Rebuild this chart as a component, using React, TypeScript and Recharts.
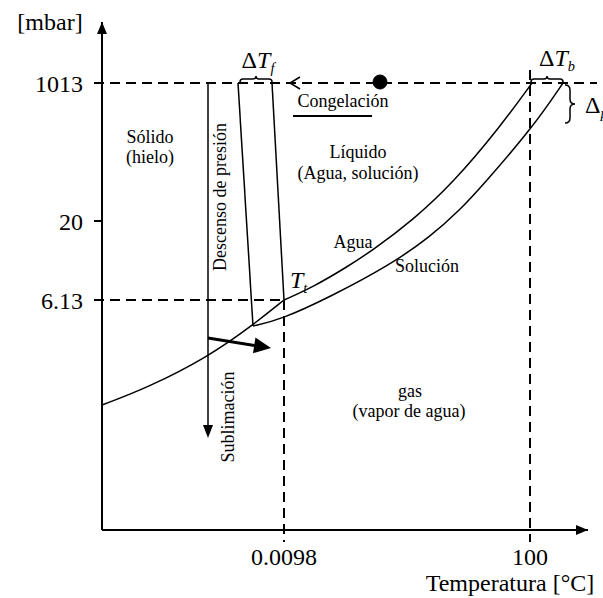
import React from 'react';
import { LineChart, Line, XAxis, YAxis, ReferenceLine, ReferenceDot } from 'recharts';

const FONT = '"Liberation Serif", "Times New Roman", serif';

// schematic phase diagram: positions along the axes and the values printed there
const tempTicks = [182, 428];
const tempLabels = ['0.0098', '100'];
const pressTicks = [230, 309, 447];
const pressLabels = ['6.13', '20', '1013'];

// ice / vapour (sublimation) curve, up to the triple point of water
const sublimationCurve = [
  { x: 0, y: 125 },
  { x: 45, y: 142 },
  { x: 106, y: 173 },
  { x: 151, y: 205 },
  { x: 182, y: 230 },
];

// vapour pressure of pure water
const waterCurve = [
  { x: 182, y: 230 },
  { x: 211, y: 243 },
  { x: 245, y: 263 },
  { x: 271, y: 280 },
  { x: 311, y: 310 },
  { x: 351, y: 347 },
  { x: 398, y: 403 },
  { x: 430, y: 447 },
];

// vapour pressure of the solution
const solutionCurve = [
  { x: 151, y: 204 },
  { x: 178, y: 210 },
  { x: 228, y: 233 },
  { x: 288, y: 265 },
  { x: 328, y: 293 },
  { x: 358, y: 320 },
  { x: 381, y: 345 },
  { x: 431, y: 403 },
  { x: 461, y: 447 },
];

// melting lines
const waterMelting = [
  { x: 170, y: 447 },
  { x: 182, y: 230 },
];
const solutionMelting = [
  { x: 136, y: 447 },
  { x: 151, y: 204 },
];

type ShapeProps = { cx?: number; cy?: number };

function Txt({ cx = 0, cy = 0, text, size = 18, anchor = 'middle', rotate = 0 }: ShapeProps & {
  text: string;
  size?: number;
  anchor?: 'start' | 'middle' | 'end';
  rotate?: number;
}) {
  return (
    <text
      x={cx}
      y={cy}
      fontSize={size}
      fontFamily={FONT}
      textAnchor={anchor}
      fill="#000"
      transform={rotate ? `rotate(${rotate} ${cx} ${cy})` : undefined}
    >
      {text}
    </text>
  );
}

function Sub({ cx = 0, cy = 0, main, sub, delta = false, size = 22, anchor = 'middle' }: ShapeProps & {
  main: string;
  sub: string;
  delta?: boolean;
  size?: number;
  anchor?: 'start' | 'middle' | 'end';
}) {
  return (
    <text x={cx} y={cy} fontSize={size} fontFamily={FONT} textAnchor={anchor} fill="#000">
      {delta && <tspan>Δ</tspan>}
      {main && <tspan fontStyle="italic">{main}</tspan>}
      <tspan fontStyle="italic" fontSize={size * 0.6} dy={size * 0.2}>
        {sub}
      </tspan>
    </text>
  );
}

function Arrowhead({ cx = 0, cy = 0, angle = 0, len = 12, half = 5 }: ShapeProps & {
  angle?: number;
  len?: number;
  half?: number;
}) {
  return (
    <polygon
      points={`${cx},${cy} ${cx - len},${cy - half} ${cx - len},${cy + half}`}
      fill="#000"
      transform={`rotate(${angle} ${cx} ${cy})`}
    />
  );
}

function Chevron({ cx = 0, cy = 0 }: ShapeProps) {
  return (
    <polyline
      points={`${cx + 10},${cy - 6} ${cx},${cy} ${cx + 10},${cy + 6}`}
      fill="none"
      stroke="#000"
      strokeWidth={1.5}
    />
  );
}

function Brace({ cx = 0, cy = 0, w = 30, h = 6, rot = 0 }: ShapeProps & { w?: number; h?: number; rot?: number }) {
  const x0 = cx - w / 2;
  const x1 = cx + w / 2;
  const q = h / 2;
  const d = `M${x0},${cy} Q${x0},${cy - q} ${x0 + q},${cy - q} L${cx - q},${cy - q} Q${cx},${cy - q} ${cx},${cy - h} Q${cx},${cy - q} ${cx + q},${cy - q} L${x1 - q},${cy - q} Q${x1},${cy - q} ${x1},${cy}`;
  return (
    <path
      d={d}
      fill="none"
      stroke="#000"
      strokeWidth={1.5}
      transform={rot ? `rotate(${rot} ${cx} ${cy})` : undefined}
    />
  );
}

const dash = { stroke: '#000', strokeWidth: 2, strokeDasharray: '10 6' };

export default function App() {
  return (
    <div style={{ position: 'absolute', left: 0, top: 0, width: 603, height: 598, background: '#fff', fontFamily: FONT }}>
      <LineChart width={603} height={598} margin={{ top: 22, right: 15, bottom: 0, left: 0 }}>
        <XAxis
          type="number"
          dataKey="x"
          domain={[0, 486]}
          ticks={tempTicks}
          interval={0}
          tickFormatter={(v: number) => tempLabels[tempTicks.indexOf(v)]}
          axisLine={{ stroke: '#000', strokeWidth: 2 }}
          tickLine={false}
          tickSize={0}
          tickMargin={18}
          height={68}
          tick={{ fontSize: 24, fill: '#000', fontFamily: FONT }}
        />
        <YAxis
          type="number"
          domain={[0, 508]}
          ticks={pressTicks}
          interval={0}
          tickFormatter={(v: number) => pressLabels[pressTicks.indexOf(v)]}
          axisLine={{ stroke: '#000', strokeWidth: 2 }}
          tickLine={{ stroke: '#000', strokeWidth: 2 }}
          tickSize={8}
          tickMargin={11}
          width={102}
          tick={{ fontSize: 24, fill: '#000', fontFamily: FONT }}
        />

        {/* dashed guides */}
        <ReferenceLine segment={[{ x: -8, y: 447 }, { x: 495, y: 447 }]} {...dash} ifOverflow="visible" />
        <ReferenceLine segment={[{ x: -8, y: 230 }, { x: 182, y: 230 }]} {...dash} ifOverflow="visible" />
        <ReferenceLine segment={[{ x: 182, y: 230 }, { x: 182, y: -12 }]} {...dash} ifOverflow="visible" />
        <ReferenceLine segment={[{ x: 428, y: 460 }, { x: 428, y: -12 }]} {...dash} ifOverflow="visible" />

        <Line data={sublimationCurve} dataKey="y" type="basis" stroke="#000" strokeWidth={1.5} dot={false} isAnimationActive={false} />
        <Line data={waterCurve} dataKey="y" type="basis" stroke="#000" strokeWidth={1.5} dot={false} isAnimationActive={false} />
        <Line data={solutionCurve} dataKey="y" type="basis" stroke="#000" strokeWidth={1.5} dot={false} isAnimationActive={false} />
        <Line data={waterMelting} dataKey="y" type="linear" stroke="#000" strokeWidth={1.5} dot={false} isAnimationActive={false} />
        <Line data={solutionMelting} dataKey="y" type="linear" stroke="#000" strokeWidth={1.5} dot={false} isAnimationActive={false} />

        {/* pressure drop and sublimation arrows */}
        <ReferenceLine segment={[{ x: 106, y: 447 }, { x: 106, y: 96 }]} stroke="#000" strokeWidth={1.5} ifOverflow="visible" />
        <ReferenceDot x={106} y={92} ifOverflow="visible" shape={<Arrowhead angle={90} len={13} half={5} />} />
        <ReferenceLine segment={[{ x: 106, y: 192 }, { x: 158, y: 183.7 }]} stroke="#000" strokeWidth={3} ifOverflow="visible" />
        <ReferenceDot x={169} y={182} ifOverflow="visible" shape={<Arrowhead angle={9} len={17} half={8} />} />

        {/* freezing path */}
        <ReferenceDot x={278} y={448} r={7} fill="#000" stroke="#000" ifOverflow="visible" />
        <ReferenceDot x={188} y={447} ifOverflow="visible" shape={<Chevron />} />
        <ReferenceLine segment={[{ x: 191, y: 414 }, { x: 270, y: 414 }]} stroke="#000" strokeWidth={2} ifOverflow="visible" />

        {/* axis arrows */}
        <ReferenceDot x={486} y={0} ifOverflow="visible" shape={<Arrowhead angle={0} len={12} half={5} />} />
        <ReferenceDot x={0} y={508} ifOverflow="visible" shape={<Arrowhead angle={-90} len={12} half={5} />} />

        {/* braces */}
        <ReferenceDot x={154} y={448} ifOverflow="visible" shape={<Brace w={32} h={6} />} />
        <ReferenceDot x={445} y={448} ifOverflow="visible" shape={<Brace w={32} h={6} />} />
        <ReferenceDot x={463} y={426} ifOverflow="visible" shape={<Brace w={38} h={10} rot={90} />} />

        {/* texts */}
        <ReferenceDot x={-52} y={500} ifOverflow="visible" shape={<Txt text="[mbar]" size={24} />} />
        <ReferenceDot x={408} y={-61} ifOverflow="visible" shape={<Txt text="Temperatura [°C]" size={24} />} />
        <ReferenceDot x={48} y={387} ifOverflow="visible" shape={<Txt text="Sólido" />} />
        <ReferenceDot x={48} y={367} ifOverflow="visible" shape={<Txt text="(hielo)" />} />
        <ReferenceDot x={256} y={372} ifOverflow="visible" shape={<Txt text="Líquido" />} />
        <ReferenceDot x={256} y={351} ifOverflow="visible" shape={<Txt text="(Agua, solución)" />} />
        <ReferenceDot x={251} y={282} ifOverflow="visible" shape={<Txt text="Agua" />} />
        <ReferenceDot x={293} y={258} ifOverflow="visible" shape={<Txt text="Solución" anchor="start" />} />
        <ReferenceDot x={308} y={133} ifOverflow="visible" shape={<Txt text="gas" />} />
        <ReferenceDot x={307} y={113} ifOverflow="visible" shape={<Txt text="(vapor de agua)" />} />
        <ReferenceDot x={241} y={423} ifOverflow="visible" shape={<Txt text="Congelación" />} />
        <ReferenceDot x={124} y={333} ifOverflow="visible" shape={<Txt text="Descenso de presión" rotate={-90} />} />
        <ReferenceDot x={132} y={113} ifOverflow="visible" shape={<Txt text="Sublimación" rotate={-90} />} />
        <ReferenceDot x={188} y={242} ifOverflow="visible" shape={<Sub main="T" sub="t" anchor="start" size={24} />} />
        <ReferenceDot x={156} y={462} ifOverflow="visible" shape={<Sub delta main="T" sub="f" size={24} />} />
        <ReferenceDot x={455} y={464} ifOverflow="visible" shape={<Sub delta main="T" sub="b" size={24} />} />
        <ReferenceDot x={483} y={417} ifOverflow="visible" shape={<Sub delta main="" sub="p" anchor="start" size={24} />} />
      </LineChart>
    </div>
  );
}
